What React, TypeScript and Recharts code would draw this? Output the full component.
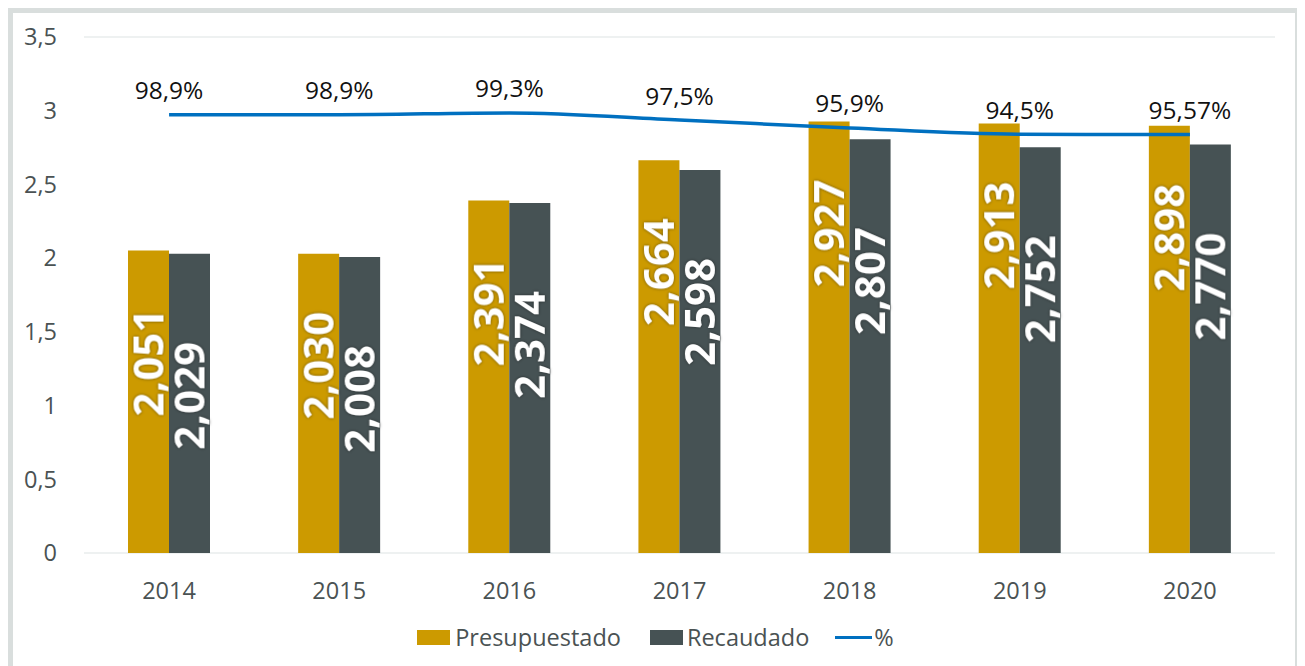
import React from 'react';
import { ComposedChart, Bar, Line, XAxis, YAxis, CartesianGrid, Legend, LabelList } from 'recharts';

const years = ['2014', '2015', '2016', '2017', '2018', '2019', '2020'];
const presupuestado = [2.051, 2.03, 2.391, 2.664, 2.927, 2.913, 2.898];
const recaudado = [2.029, 2.008, 2.374, 2.598, 2.807, 2.752, 2.77];
const pctLine = [99.1, 99.1, 99.5, 97.9, 96.1, 94.7, 94.6];
const pctLabels = ['98,9%', '98,9%', '99,3%', '97,5%', '95,9%', '94,5%', '95,57%'];
const yTicks = [0, 0.5, 1, 1.5, 2, 2.5, 3, 3.5];
const seriesNames = ['Presupuestado', 'Recaudado', '%'];

const data = years.map((y, i) => ({
  year: y,
  p: presupuestado[i],
  r: recaudado[i],
  pct: pctLine[i],
}));

const C_P = '#CC9A00';
const C_R = '#465254';
const C_L = '#0070C0';
const TXT = '#4a5253';
const FONT = "'Open Sans', sans-serif";

const fmtNum = (v: number) => v.toFixed(3).replace('.', ',');

const makeBarLabel = (offset: number) => (props: any) => {
  const vb = props.viewBox || {};
  const x = props.x ?? vb.x;
  const y = props.y ?? vb.y;
  const width = props.width ?? vb.width;
  const cx = x + width / 2;
  const ay = y + offset;
  return (
    <text
      transform={`translate(${cx},${ay}) rotate(-90)`}
      x={0}
      y={0}
      dy="0.36em"
      textAnchor="start"
      fill="#ffffff"
      fontFamily={FONT}
      fontWeight={700}
      fontSize={42}
      style={{ filter: 'drop-shadow(0 0 1.5px rgba(0,0,0,0.5))' }}
    >
      {fmtNum(Number(props.value))}
    </text>
  );
};

const pctLabel = (props: any) => {
  const { x, y, index } = props;
  return (
    <text x={x} y={y - 25} textAnchor="middle" dominantBaseline="central" fill="#111" fontFamily={FONT} fontSize={24.5}>
      {pctLabels[index]}
    </text>
  );
};

const renderLegend = () => (
  <div
    style={{
      display: 'flex',
      justifyContent: 'center',
      alignItems: 'center',
      height: 32,
      paddingLeft: 23,
      fontFamily: FONT,
      fontSize: 23.5,
      color: TXT,
    }}
  >
    <span style={{ display: 'inline-block', width: 33, height: 15, background: C_P, marginRight: 5 }} />
    <span style={{ marginRight: 29 }}>{seriesNames[0]}</span>
    <span style={{ display: 'inline-block', width: 33, height: 15, background: C_R, marginRight: 4 }} />
    <span style={{ marginRight: 26 }}>{seriesNames[1]}</span>
    <span style={{ display: 'inline-block', width: 37, height: 3, background: C_L, marginRight: 2 }} />
    <span>{seriesNames[2]}</span>
  </div>
);

export default function App() {
  return (
    <div style={{ width: 1282, height: 680, border: '5px solid #d9dedd', background: '#fff' }}>
      <ComposedChart
        width={1282}
        height={680}
        data={data}
        margin={{ top: 24, right: 20, left: 0, bottom: 40 }}
        barGap={0}
      >
        <CartesianGrid vertical={false} stroke="#e9ecec" strokeWidth={1.5} />
        <XAxis
          dataKey="year"
          axisLine={false}
          tickLine={false}
          tickSize={0}
          tickMargin={29}
          height={68}
          tick={{ fill: TXT, fontFamily: FONT, fontSize: 23.5 }}
        />
        <YAxis
          yAxisId="left"
          domain={[0, 3.5]}
          ticks={yTicks}
          width={71}
          axisLine={false}
          tickLine={false}
          tickSize={0}
          tickMargin={27}
          tickFormatter={(v: number) => String(v).replace('.', ',')}
          tick={{ fill: TXT, fontFamily: FONT, fontSize: 23.5 }}
        />
        <YAxis yAxisId="pct" orientation="right" hide domain={[0, 116.67]} />
        <Legend content={renderLegend} />
        <Bar yAxisId="left" dataKey="p" name={seriesNames[0]} fill={C_P} barSize={41} isAnimationActive={false}>
          <LabelList dataKey="p" content={makeBarLabel(166)} />
        </Bar>
        <Bar yAxisId="left" dataKey="r" name={seriesNames[1]} fill={C_R} barSize={41} isAnimationActive={false}>
          <LabelList dataKey="r" content={makeBarLabel(196)} />
        </Bar>
        <Line
          yAxisId="pct"
          type="monotone"
          dataKey="pct"
          name={seriesNames[2]}
          stroke={C_L}
          strokeWidth={3.5}
          dot={false}
          activeDot={false}
          isAnimationActive={false}
        >
          <LabelList dataKey="pct" content={pctLabel} />
        </Line>
      </ComposedChart>
    </div>
  );
}
